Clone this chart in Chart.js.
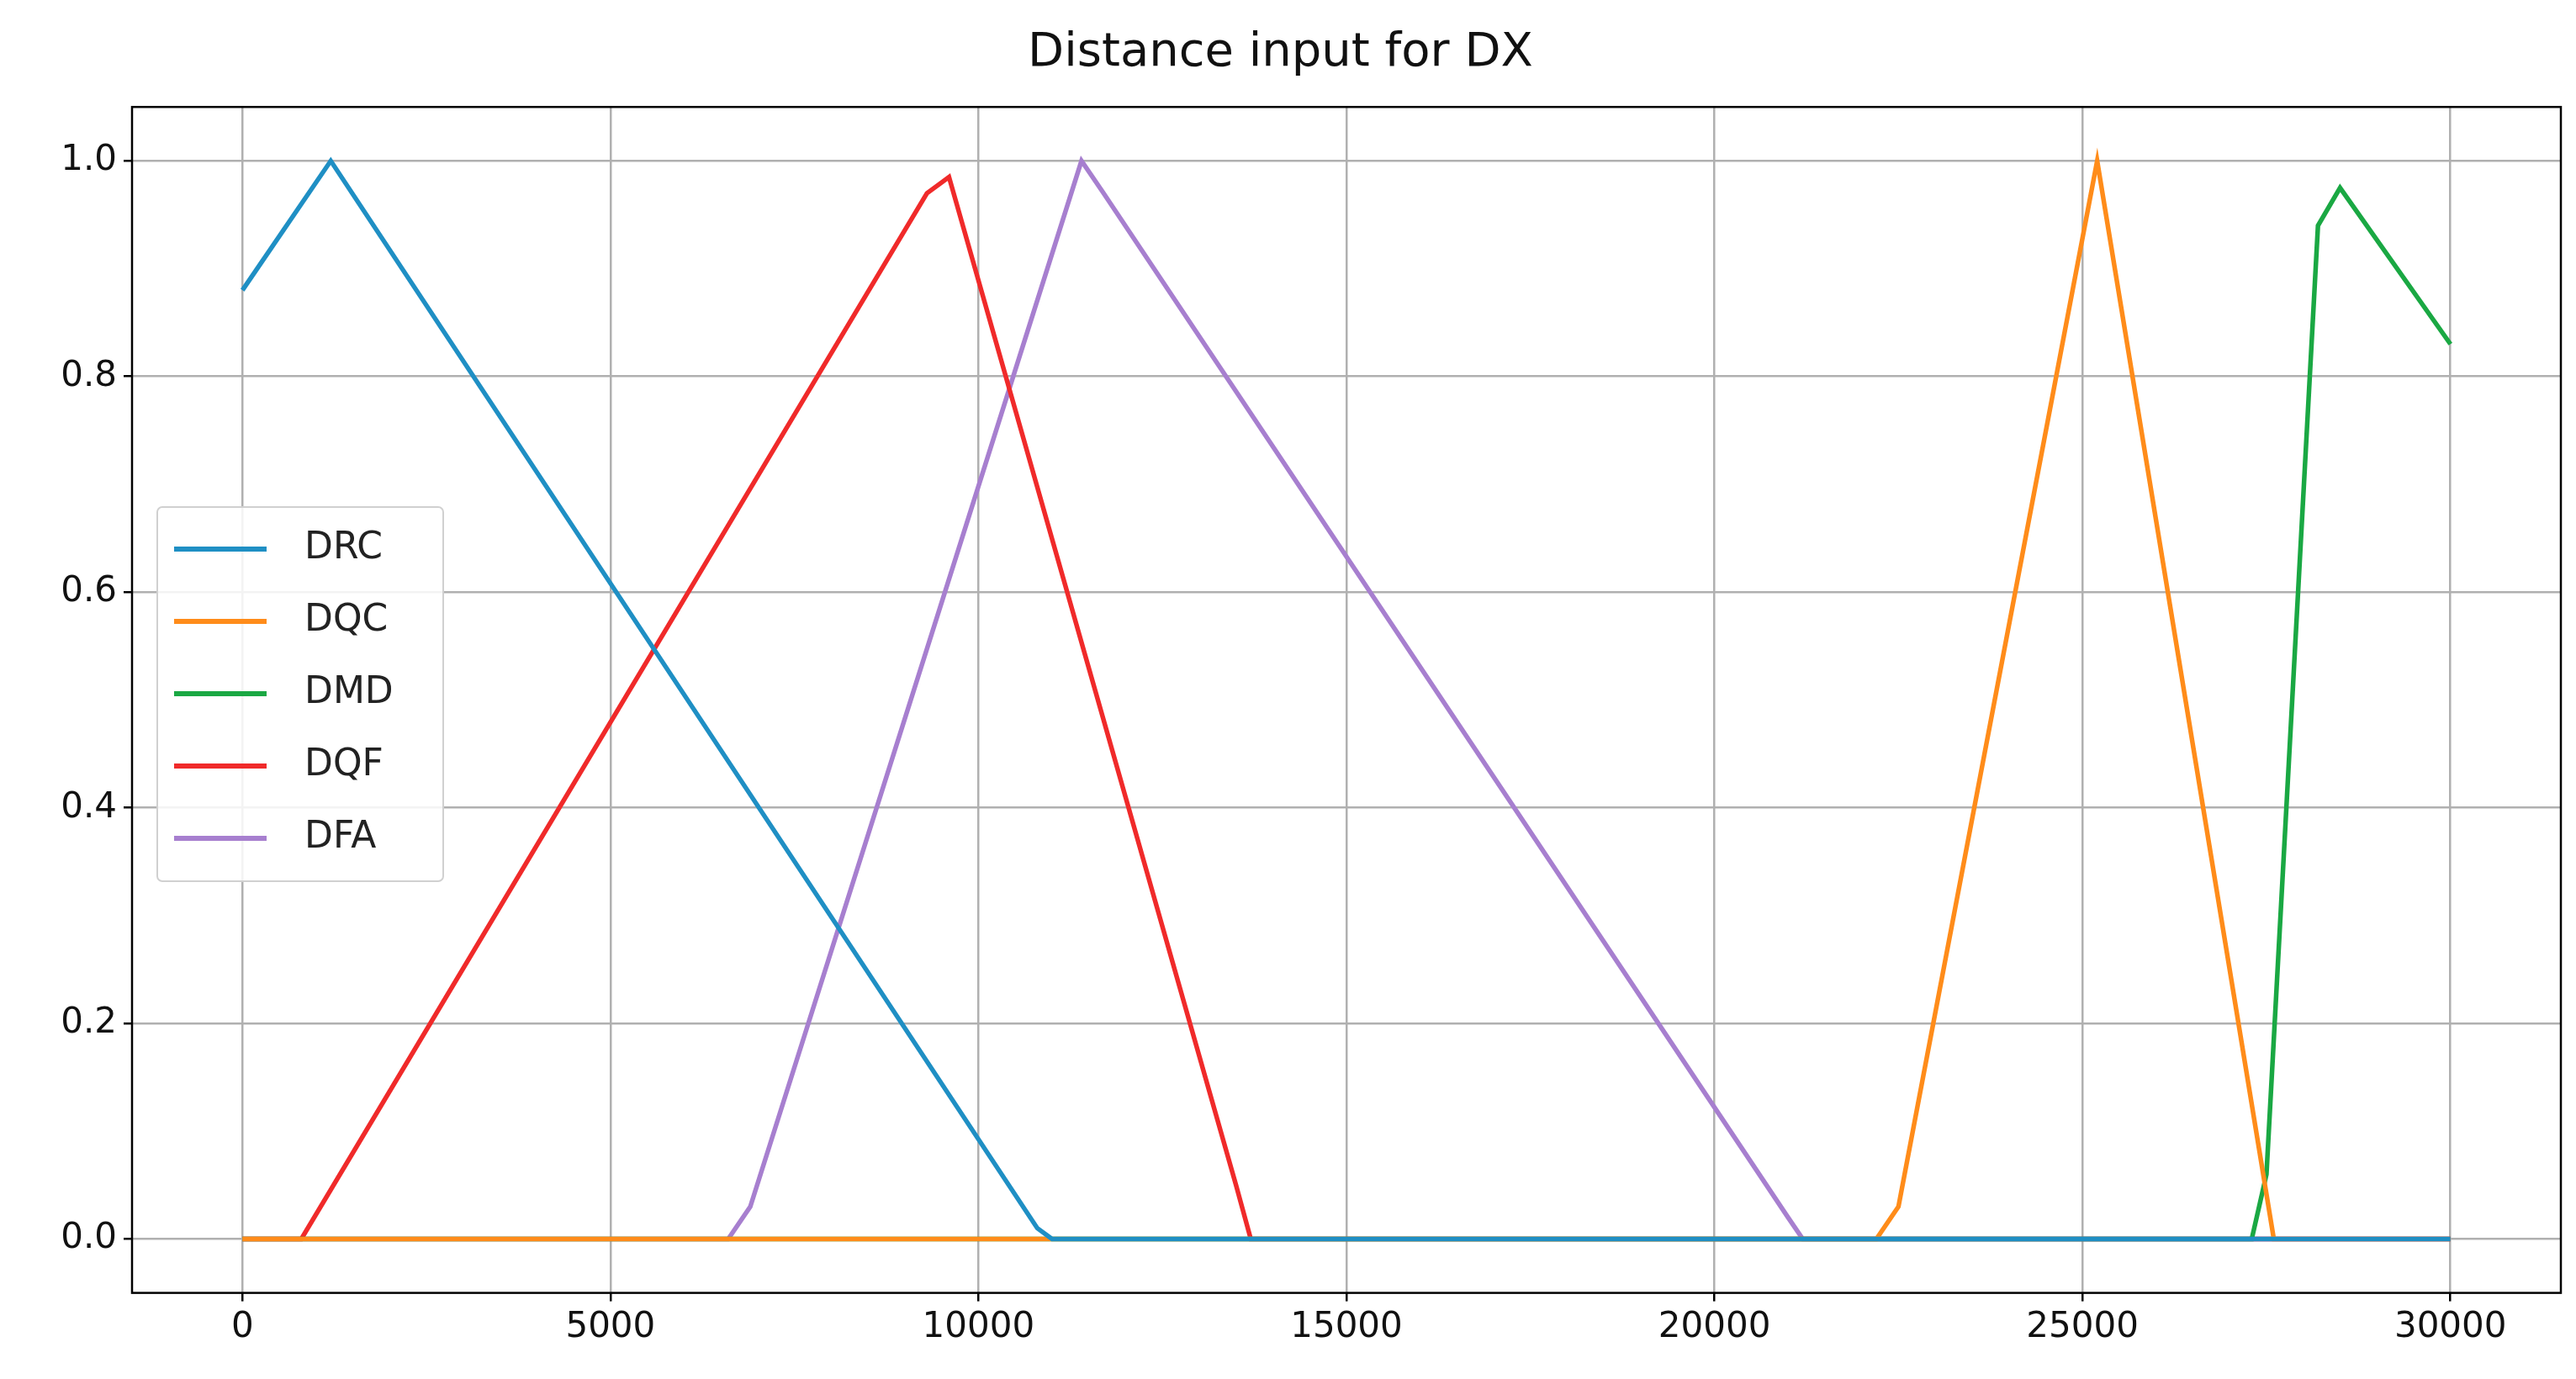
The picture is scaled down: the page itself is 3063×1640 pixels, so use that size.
<!DOCTYPE html>
<html><head><meta charset="utf-8">
<script src="https://cdn.jsdelivr.net/npm/chart.js@4"></script>
<style>html,body{margin:0;background:#fff}</style></head>
<body><canvas id="c" width="3063" height="1640"></canvas>
<script>
const seriesNames = ['DRC','DQC','DMD','DQF','DFA'];
const drcX = [0,1200,10800,11000,30000];
const drcY = [0.88,1.0,0.01,0,0];
const dqcX = [0,22200,22500,25200,27600,30000];
const dqcY = [0,0,0.03,1.0,0,0];
const dmdX = [0,27300,27500,28200,28500,30000];
const dmdY = [0,0,0.06,0.94,0.975,0.83];
const dqfX = [0,800,9300,9600,13500,13700,30000];
const dqfY = [0,0,0.97,0.985,0.05,0,0];
const dfaX = [0,6600,6900,11400,11700,21000,21200,30000];
const dfaY = [0,0,0.03,1.0,0.97,0.02,0,0];
const colors = ['#1f8fc4','#ff8c1a','#1aa843','#f02a2a','#a77fcf'];
const xs=[drcX,dqcX,dmdX,dqfX,dfaX], ys=[drcY,dqcY,dmdY,dqfY,dfaY];
const datasets = seriesNames.map((n,i)=>({label:n,data:xs[i].map((x,j)=>({x,y:ys[i][j]})),borderColor:colors[i],backgroundColor:colors[i],borderWidth:5.5,pointRadius:0,tension:0}));
const F='"DejaVu Sans", sans-serif';
const legendPlugin={id:'lg',afterDraw(ch){const c=ch.ctx;const x0=187,y0=603,w=340,h=445;
 c.save();c.fillStyle='rgba(255,255,255,0.85)';c.strokeStyle='#d0d0d0';c.lineWidth=2;
 c.beginPath();c.roundRect(x0,y0,w,h,6);c.fill();c.stroke();
 c.font='44px '+F;c.textBaseline='middle';
 ch.data.datasets.forEach((d,i)=>{const y=y0+50+i*86;c.strokeStyle=d.borderColor;c.lineWidth=6;
  c.beginPath();c.moveTo(x0+20,y);c.lineTo(x0+130,y);c.stroke();c.fillStyle='#222';c.fillText(d.label,x0+175,y);});
 c.restore();}};
const frame={id:'fr',afterDraw(ch){const a=ch.chartArea,c=ch.ctx;c.save();c.strokeStyle='#000';c.lineWidth=2.5;c.strokeRect(a.left,a.top,a.right-a.left,a.bottom-a.top);c.restore();}};
new Chart(document.getElementById('c'),{type:'line',data:{datasets},
options:{responsive:false,animation:false,devicePixelRatio:1,
 layout:{padding:{left:0,right:18,top:20,bottom:30}},
 plugins:{legend:{display:false},title:{display:true,text:'Distance input for DX',font:{family:F,size:56,weight:'normal'},color:'#111',padding:{top:10,bottom:30}}},
 scales:{
  x:{type:'linear',min:-1500,max:31500,afterBuildTicks(s){s.ticks=[0,5000,10000,15000,20000,25000,30000].map(v=>({value:v}));},
   ticks:{font:{family:F,size:42},color:'#111',maxRotation:0,padding:6,callback:v=>String(v)},grid:{color:'#b0b0b0',lineWidth:2.5,drawTicks:true,tickLength:10,tickColor:'#000'},border:{display:false}},
  y:{min:-0.05,max:1.05,afterBuildTicks(s){s.ticks=[0,0.2,0.4,0.6,0.8,1.0].map(v=>({value:v}));},
   afterFit(s){s.width=157;},
   ticks:{font:{family:F,size:42},color:'#111',padding:8,callback:v=>v.toFixed(1)},grid:{color:'#b0b0b0',lineWidth:2.5,tickLength:10,tickColor:'#000'},border:{display:false}}
 }},plugins:[legendPlugin,frame]});
</script></body></html>
